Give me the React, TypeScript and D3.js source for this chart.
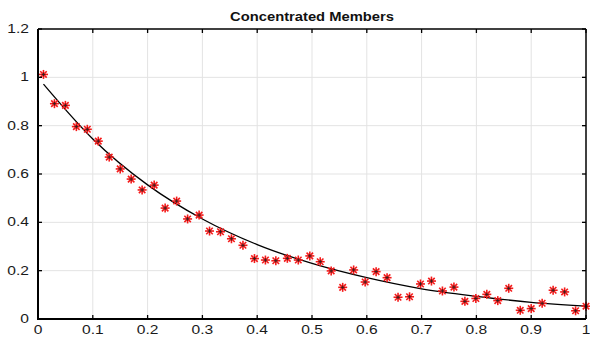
import { useEffect, useRef } from 'react';
import * as d3 from 'd3';

// measured points
const xs = [0.01, 0.03, 0.05, 0.07, 0.09, 0.11, 0.13, 0.15, 0.17, 0.19,
  0.212, 0.232, 0.253, 0.273, 0.294, 0.313, 0.333, 0.353, 0.374, 0.395,
  0.415, 0.434, 0.455, 0.475, 0.496, 0.515, 0.535, 0.556, 0.576, 0.597,
  0.617, 0.637, 0.657, 0.678, 0.698, 0.718, 0.738, 0.759, 0.779, 0.799,
  0.819, 0.839, 0.859, 0.88, 0.9, 0.92, 0.94, 0.961, 0.981, 1.0];
const ys = [1.012, 0.891, 0.884, 0.796, 0.785, 0.736, 0.67, 0.621, 0.579, 0.534,
  0.554, 0.459, 0.488, 0.414, 0.43, 0.364, 0.361, 0.332, 0.305, 0.25,
  0.244, 0.241, 0.251, 0.244, 0.261, 0.237, 0.199, 0.131, 0.203, 0.153,
  0.196, 0.171, 0.09, 0.092, 0.145, 0.157, 0.116, 0.132, 0.073, 0.085,
  0.102, 0.076, 0.127, 0.036, 0.043, 0.065, 0.119, 0.112, 0.034, 0.053];

// fitted curve
const fitX = [0.01, 0.1, 0.2, 0.3, 0.4, 0.5, 0.6, 0.7, 0.8, 0.9, 1.0];
const fitY = [0.972, 0.745, 0.555, 0.414, 0.308, 0.23, 0.171, 0.125, 0.094, 0.069, 0.053];

const xTicks = [0, 0.1, 0.2, 0.3, 0.4, 0.5, 0.6, 0.7, 0.8, 0.9, 1];
const yTicks = [0, 0.2, 0.4, 0.6, 0.8, 1, 1.2];

const W = 590, H = 342;
const FONT = '"Liberation Sans", Arial, sans-serif';

export default function App() {
  const ref = useRef<SVGSVGElement>(null);

  useEffect(() => {
    const svg = d3.select(ref.current);
    svg.selectAll('*').remove();

    const left = 38, right = 586, top = 29, bottom = 319;
    const x = d3.scaleLinear().domain([0, 1]).range([left, right]);
    const y = d3.scaleLinear().domain([0, 1.2]).range([bottom, top]);

    svg.append('rect').attr('width', W).attr('height', H).attr('fill', '#fff');

    // grid
    const grid = svg.append('g').attr('stroke', '#e3e3e3').attr('stroke-width', 1);
    xTicks.slice(1, -1).forEach(t => {
      grid.append('line').attr('x1', x(t)).attr('x2', x(t)).attr('y1', top).attr('y2', bottom);
    });
    yTicks.slice(1, -1).forEach(t => {
      grid.append('line').attr('x1', left).attr('x2', right).attr('y1', y(t)).attr('y2', y(t));
    });

    // fitted line
    const line = d3.line<number>()
      .x((_, i) => x(fitX[i]))
      .y(d => y(d))
      .curve(d3.curveMonotoneX);
    svg.append('path')
      .datum(fitY)
      .attr('d', line)
      .attr('fill', 'none')
      .attr('stroke', '#000')
      .attr('stroke-width', 1.3);

    // markers: red asterisk with dark centre
    const m = svg.append('g');
    ys.forEach((v, i) => {
      const cx = x(xs[i]), cy = y(v);
      const r = 4.5, rd = r * 0.72;
      const g = m.append('g').attr('transform', `translate(${cx},${cy})`);
      const star = g.append('g').attr('stroke', '#f51a1a').attr('stroke-width', 1.6);
      star.append('line').attr('x1', -r).attr('x2', r).attr('y1', 0).attr('y2', 0);
      star.append('line').attr('y1', -r).attr('y2', r).attr('x1', 0).attr('x2', 0);
      star.append('line').attr('x1', -rd).attr('y1', -rd).attr('x2', rd).attr('y2', rd);
      star.append('line').attr('x1', -rd).attr('y1', rd).attr('x2', rd).attr('y2', -rd);
      const plus = g.append('g').attr('stroke', '#222').attr('stroke-width', 0.9);
      plus.append('line').attr('x1', -1.8).attr('x2', 1.8).attr('y1', 0).attr('y2', 0);
      plus.append('line').attr('y1', -1.8).attr('y2', 1.8).attr('x1', 0).attr('x2', 0);
    });

    // axes box
    const box = svg.append('g').attr('stroke', '#000');
    box.append('line').attr('x1', left).attr('x2', right).attr('y1', top).attr('y2', top).attr('stroke-width', 1.5);
    box.append('line').attr('x1', right).attr('x2', right).attr('y1', top).attr('y2', bottom).attr('stroke-width', 1.5);
    box.append('line').attr('x1', left - 1).attr('x2', right).attr('y1', bottom).attr('y2', bottom).attr('stroke-width', 2);
    box.append('line').attr('x1', left).attr('x2', left).attr('y1', top).attr('y2', bottom + 1).attr('stroke-width', 2);

    // ticks inward on all sides
    const tl = 4;
    xTicks.forEach(t => {
      box.append('line').attr('x1', x(t)).attr('x2', x(t)).attr('y1', bottom).attr('y2', bottom - tl).attr('stroke-width', 1.3);
      box.append('line').attr('x1', x(t)).attr('x2', x(t)).attr('y1', top).attr('y2', top + tl).attr('stroke-width', 1.3);
    });
    yTicks.forEach(t => {
      box.append('line').attr('x1', left).attr('x2', left + tl).attr('y1', y(t)).attr('y2', y(t)).attr('stroke-width', 1.3);
      box.append('line').attr('x1', right).attr('x2', right - tl).attr('y1', y(t)).attr('y2', y(t)).attr('stroke-width', 1.3);
    });

    // tick labels (the picture is stretched sideways)
    const lab = svg.append('g').attr('font-family', FONT).attr('font-size', 12).attr('fill', '#1a1a1a');
    xTicks.forEach(t => {
      lab.append('text')
        .attr('transform', `translate(${x(t)},${bottom + 15}) scale(1.3,1)`)
        .attr('text-anchor', 'middle')
        .text(d3.format('~g')(t));
    });
    yTicks.forEach(t => {
      lab.append('text')
        .attr('transform', `translate(${left - 9},${y(t) + 4}) scale(1.3,1)`)
        .attr('text-anchor', 'end')
        .text(d3.format('~g')(t));
    });

    // title
    svg.append('text')
      .attr('transform', `translate(${(left + right) / 2},${top - 8}) scale(1.18,1)`)
      .attr('text-anchor', 'middle')
      .attr('font-family', FONT)
      .attr('font-size', 12.5)
      .attr('font-weight', 'bold')
      .attr('fill', '#111')
      .text('Concentrated Members');
  }, []);

  return (
    <svg ref={ref} width={W} height={H}
      style={{ position: 'absolute', left: 0, top: 0, display: 'block' }} />
  );
}
